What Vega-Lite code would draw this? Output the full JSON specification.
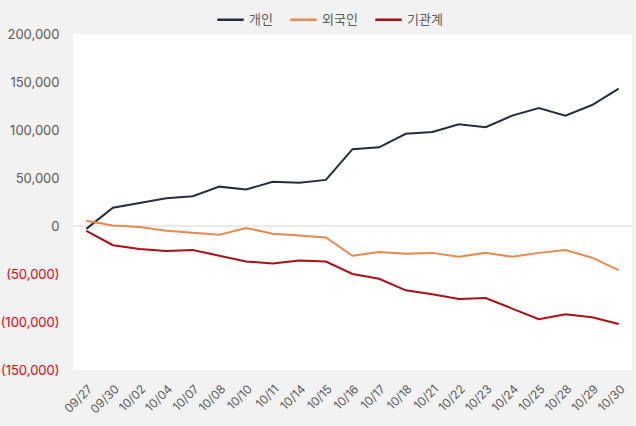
{
  "$schema": "https://vega.github.io/schema/vega-lite/v6.json",
  "width": 559,
  "height": 336,
  "autosize": {"type": "none"},
  "padding": {"left": 73, "top": 34, "right": 4, "bottom": 56},
  "background": "#f2f2f2",
  "config": {
    "view": {"fill": "white", "stroke": null},
    "font": "Inter, Noto Sans CJK KR"
  },
  "datasets": {
    "flows": [
      {"date": "09/27", "개인": -3000, "외국인": 5500, "기관계": -5000},
      {"date": "09/30", "개인": 19000, "외국인": 500, "기관계": -20000},
      {"date": "10/02", "개인": 24000, "외국인": -1000, "기관계": -24000},
      {"date": "10/04", "개인": 29000, "외국인": -5000, "기관계": -26000},
      {"date": "10/07", "개인": 31000, "외국인": -7000, "기관계": -25000},
      {"date": "10/08", "개인": 41000, "외국인": -9000, "기관계": -31000},
      {"date": "10/10", "개인": 38000, "외국인": -2000, "기관계": -37000},
      {"date": "10/11", "개인": 46000, "외국인": -8000, "기관계": -39000},
      {"date": "10/14", "개인": 45000, "외국인": -10000, "기관계": -36000},
      {"date": "10/15", "개인": 48000, "외국인": -12000, "기관계": -37000},
      {"date": "10/16", "개인": 80000, "외국인": -31000, "기관계": -50000},
      {"date": "10/17", "개인": 82000, "외국인": -27000, "기관계": -55000},
      {"date": "10/18", "개인": 96000, "외국인": -29000, "기관계": -67000},
      {"date": "10/21", "개인": 98000, "외국인": -28000, "기관계": -71000},
      {"date": "10/22", "개인": 106000, "외국인": -32000, "기관계": -76000},
      {"date": "10/23", "개인": 103000, "외국인": -28000, "기관계": -75000},
      {"date": "10/24", "개인": 115000, "외국인": -32000, "기관계": -86000},
      {"date": "10/25", "개인": 123000, "외국인": -28000, "기관계": -97000},
      {"date": "10/28", "개인": 115000, "외국인": -25000, "기관계": -92000},
      {"date": "10/29", "개인": 126000, "외국인": -33000, "기관계": -95000},
      {"date": "10/30", "개인": 143000, "외국인": -46000, "기관계": -102000}
    ]
  },
  "layer": [
    {
      "data": {"values": [{"zero": 0}]},
      "mark": {"type": "rule", "color": "#d4d4d4", "strokeWidth": 1},
      "encoding": {"y": {"field": "zero", "type": "quantitative", "scale": {"domain": [-150000, 200000]}}}
    },
    {
      "data": {"name": "flows"},
      "transform": [{"fold": ["개인", "외국인", "기관계"], "as": ["investor", "value"]}],
      "mark": {"type": "line", "strokeWidth": 2},
      "encoding": {
        "x": {
          "field": "date",
          "type": "ordinal",
          "scale": {"type": "point", "padding": 0.5},
          "axis": {
            "title": null,
            "labelAngle": -45,
            "labelFontSize": 12,
            "labelColor": "#595959",
            "domain": false,
            "ticks": false,
            "labelPadding": 13
          }
        },
        "y": {
          "field": "value",
          "type": "quantitative",
          "scale": {"domain": [-150000, 200000], "nice": false},
          "axis": {
            "title": null,
            "values": [-150000, -100000, -50000, 0, 50000, 100000, 150000, 200000],
            "labelExpr": "datum.value < 0 ? '(' + format(-datum.value, ',') + ')' : format(datum.value, ',')",
            "labelColor": {"condition": {"test": "datum.value < 0", "value": "#e8000b"}, "value": "#595959"},
            "labelFontSize": 13,
            "grid": false,
            "domain": false,
            "ticks": false,
            "labelPadding": 14
          }
        },
        "color": {
          "field": "investor",
          "type": "nominal",
          "sort": ["개인", "외국인", "기관계"],
          "scale": {"domain": ["개인", "외국인", "기관계"], "range": ["#252d3b", "#e8894a", "#ad0d14"]},
          "legend": {
            "title": null,
            "orient": "none",
            "legendX": 143,
            "legendY": -29,
            "direction": "horizontal",
            "symbolType": "stroke",
            "symbolStrokeWidth": 2.5,
            "symbolSize": 700,
            "labelFontSize": 13,
            "labelColor": "#595959",
            "columnPadding": 12
          }
        }
      }
    }
  ]
}
